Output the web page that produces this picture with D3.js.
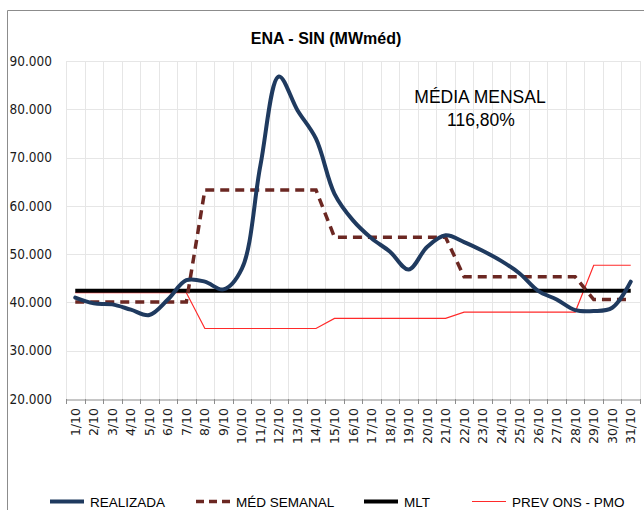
<!DOCTYPE html>
<html>
<head>
<meta charset="utf-8">
<script src="https://cdn.jsdelivr.net/npm/d3@7"></script>
<style>
  html, body { margin: 0; padding: 0; background: #fff; }
  svg { display: block; }
</style>
</head>
<body>
<svg id="chart" width="644" height="510"></svg>
<script>
// ---- data ----
const days = ["1/10","2/10","3/10","4/10","5/10","6/10","7/10","8/10","9/10","10/10",
  "11/10","12/10","13/10","14/10","15/10","16/10","17/10","18/10","19/10","20/10",
  "21/10","22/10","23/10","24/10","25/10","26/10","27/10","28/10","29/10","30/10","31/10"];
const realizada = [41000, 39800, 39600, 38500, 37400, 40600, 44600, 44300, 42700, 47000,
  68400, 86800, 79800, 73900, 62500, 57000, 53300, 50500, 46800, 51500,
  53900, 52500, 50700, 48600, 46000, 42400, 40600, 38400, 38200, 38900, 44300];
const medSemanal = [40100, 40100, 40100, 40100, 40100, 40100, 40100,
  63300, 63300, 63300, 63300, 63300, 63300, 63300,
  53500, 53500, 53500, 53500, 53500, 53500, 53500,
  45300, 45300, 45300, 45300, 45300, 45300, 45300,
  40600, 40600, 40600];
const mlt = days.map(() => 42400);
const prevOns = [42000, 42000, 42000, 42000, 42000, 42000, 42000,
  34600, 34600, 34600, 34600, 34600, 34600, 34600,
  36700, 36700, 36700, 36700, 36700, 36700, 36700,
  38000, 38000, 38000, 38000, 38000, 38000, 38000,
  47700, 47700, 47700];
const yTicks = [20000, 30000, 40000, 50000, 60000, 70000, 80000, 90000];
const title = "ENA - SIN (MWméd)";
const note1 = "MÉDIA MENSAL";
const note2 = "116,80%";
const legendNames = ["REALIZADA", "MÉD SEMANAL", "MLT", "PREV ONS - PMO"];

// ---- layout ----
const svg = d3.select("#chart");
const pLeft = 66, pRight = 640, pTop = 61, pBottom = 399;
const x = d3.scaleBand().domain(days).range([pLeft, pRight]).padding(0);
const y = d3.scaleLinear().domain([20000, 90000]).range([pBottom, pTop]);
const cx = d => x(d) + x.bandwidth() / 2;
const loc = d3.formatLocale({decimal: ",", thousands: ".", grouping: [3], currency: ["", ""]});
const fmt = loc.format(",.0f");

// outer border
svg.append("path").attr("d", "M7.5,510 L7.5,10.5 L644,10.5")
  .attr("fill", "none").attr("stroke", "#8c8c8c").attr("stroke-width", 1);

// gridlines
const grid = svg.append("g");
grid.selectAll("line.h").data(yTicks.slice(1)).join("line")
  .attr("x1", pLeft).attr("x2", pRight)
  .attr("y1", d => Math.round(y(d)) + 0.5).attr("y2", d => Math.round(y(d)) + 0.5)
  .attr("stroke", "#e6e6e6").attr("stroke-width", 1);
grid.selectAll("line.v").data(days).join("line")
  .attr("x1", d => Math.round(x(d)) + 0.5).attr("x2", d => Math.round(x(d)) + 0.5)
  .attr("y1", pTop).attr("y2", pBottom)
  .attr("stroke", "#e6e6e6").attr("stroke-width", 1);
grid.append("line")
  .attr("x1", pRight + 0.5).attr("x2", pRight + 0.5).attr("y1", pTop).attr("y2", pBottom)
  .attr("stroke", "#e6e6e6");

// y axis labels
svg.append("g").selectAll("text").data(yTicks).join("text")
  .attr("x", 52).attr("y", d => y(d)).attr("dy", "0.35em")
  .attr("text-anchor", "end")
  .attr("font-family", "'DejaVu Sans Condensed', 'DejaVu Sans', sans-serif")
  .attr("font-size", 13.5).attr("fill", "#1a1a1a")
  .text(d => fmt(d));

// x axis
const xAxis = svg.append("g").attr("transform", `translate(0,${pBottom + 0.5})`)
  .call(d3.axisBottom(x).tickSize(0).tickFormat(""));
xAxis.select(".domain").attr("stroke", "#8c8c8c");
svg.append("g").selectAll("line").data(days.concat(["__end"])).join("line")
  .attr("x1", d => d === "__end" ? pRight + 0.5 : Math.round(x(d)) + 0.5)
  .attr("x2", d => d === "__end" ? pRight + 0.5 : Math.round(x(d)) + 0.5)
  .attr("y1", pBottom).attr("y2", pBottom + 5)
  .attr("stroke", "#8c8c8c");
svg.append("g").selectAll("text").data(days).join("text")
  .attr("transform", d => `translate(${cx(d) + 4.5},${pBottom + 9}) rotate(-90)`)
  .attr("text-anchor", "end")
  .attr("font-family", "'DejaVu Sans', sans-serif")
  .attr("font-size", 12.5).attr("fill", "#1a1a1a")
  .text(d => d);

// lines
const lineGen = d3.line().x((d, i) => cx(days[i])).y(d => y(d));
svg.append("path").datum(prevOns)
  .attr("d", lineGen.curve(d3.curveLinear))
  .attr("fill", "none").attr("stroke", "#ff2a2a").attr("stroke-width", 1.2);
svg.append("path").datum(mlt)
  .attr("d", lineGen.curve(d3.curveLinear))
  .attr("fill", "none").attr("stroke", "#000").attr("stroke-width", 4);
svg.append("path").datum(medSemanal)
  .attr("d", lineGen.curve(d3.curveLinear))
  .attr("fill", "none").attr("stroke", "#6b2722").attr("stroke-width", 3.5)
  .attr("stroke-dasharray", "9,6");
svg.append("path").datum(realizada)
  .attr("d", d3.line().x((d, i) => cx(days[i])).y(d => y(d)).curve(d3.curveCatmullRom.alpha(0.5)))
  .attr("fill", "none").attr("stroke", "#1f3a5f").attr("stroke-width", 4)
  .attr("stroke-linejoin", "round").attr("stroke-linecap", "round");

// title
svg.append("text").attr("x", 326).attr("y", 44).attr("text-anchor", "middle")
  .attr("font-family", "'Liberation Sans Narrow', 'Liberation Sans', sans-serif")
  .attr("font-weight", "bold").attr("font-size", 16).attr("fill", "#000")
  .text(title);

// annotation
svg.append("text").attr("x", 480).attr("y", 103).attr("text-anchor", "middle")
  .attr("font-family", "'Liberation Sans Narrow', 'Liberation Sans', sans-serif")
  .attr("font-size", 17.5).attr("fill", "#000").text(note1);
svg.append("text").attr("x", 481).attr("y", 126).attr("text-anchor", "middle")
  .attr("font-family", "'Liberation Sans Narrow', 'Liberation Sans', sans-serif")
  .attr("font-size", 17.5).attr("fill", "#000").text(note2);

// legend
const legX = [50, 196, 364, 472];
const legStyles = [
  {stroke: "#1f3a5f", w: 4, dash: null},
  {stroke: "#6b2722", w: 3.5, dash: "8,5"},
  {stroke: "#000", w: 4, dash: null},
  {stroke: "#ff2a2a", w: 1.2, dash: null}
];
const leg = svg.append("g").selectAll("g").data(legendNames).join("g")
  .attr("transform", (d, i) => `translate(${legX[i]},0)`);
leg.append("line").attr("x1", 0).attr("x2", 34).attr("y1", 501.5).attr("y2", 501.5)
  .attr("stroke", (d, i) => legStyles[i].stroke)
  .attr("stroke-width", (d, i) => legStyles[i].w)
  .attr("stroke-dasharray", (d, i) => legStyles[i].dash);
leg.append("text").attr("x", 40).attr("y", 506.5)
  .attr("font-family", "'Liberation Sans Narrow', 'Liberation Sans', sans-serif")
  .attr("font-size", 13.5).attr("fill", "#000").text(d => d);
</script>
</body>
</html>
